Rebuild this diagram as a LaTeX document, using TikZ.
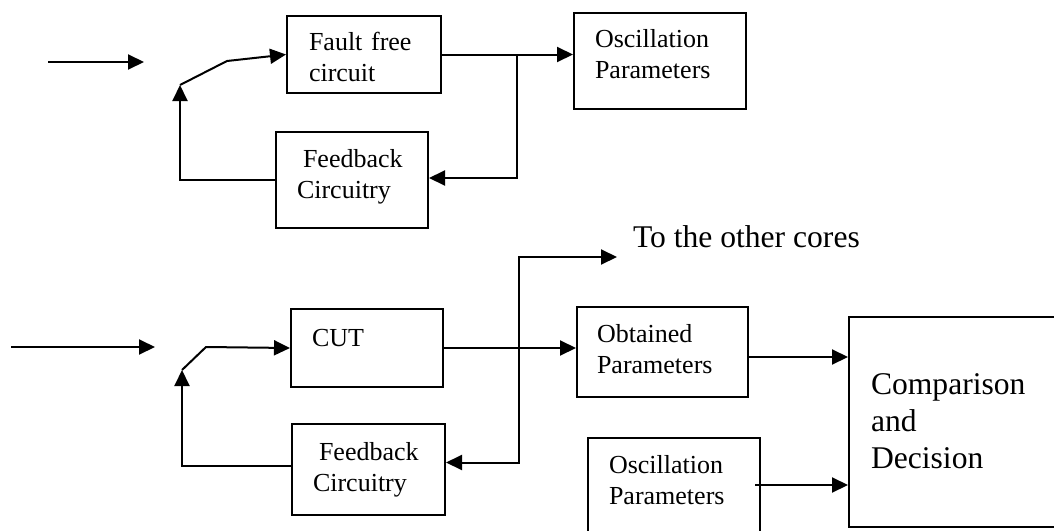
\documentclass[tikz,border=0pt]{standalone}
\usepackage{amsmath}
\usepackage{fontspec}
\setmainfont{Liberation Serif}
\usetikzlibrary{arrows.meta}

\begin{document}
\begin{tikzpicture}[x=0.5pt, y=-0.5pt, line width=1pt,
		>={Triangle[length=8pt,width=7.5pt]},
		blk/.style={draw=black, inner sep=0pt, align=left, text height=0pt,
			font=\fontsize{13pt}{15.5pt}\selectfont},
		big/.style={font=\fontsize{15.8pt}{18.5pt}\selectfont}]
				\useasboundingbox (0,0) rectangle (1054,530);
				% reference (fault free) loop
				\node[blk, minimum width=77pt, minimum height=38.5pt,
				text width=55pt, text depth=3.8pt] (ff) at (364,54.5) {Fault free\\circuit};
				\node[blk, minimum width=76pt, minimum height=48pt,
				text width=55pt, text depth=13pt] (fb1) at (352,180) {\hspace*{3pt}Feedback\\Circuitry};
				\node[blk, minimum width=86pt, minimum height=48pt,
				text width=65pt, text depth=14pt] (osc1) at (660,61) {Oscillation\\Parameters};
				% loop of the circuit under test
				\node[blk, minimum width=76pt, minimum height=39pt,
				text width=55pt, text depth=2pt] (cut) at (367,348) {CUT};
				\node[blk, minimum width=76.5pt, minimum height=45.5pt,
				text width=55.5pt, text depth=9.5pt] (fb2) at (368.5,469.5) {\hspace*{3pt}Feedback\\Circuitry};
				\node[blk, minimum width=85.5pt, minimum height=45pt,
				text width=65.5pt, text depth=10pt] (obt) at (662.5,352) {Obtained\\Parameters};
				\node[blk, minimum width=86pt, minimum height=47pt,
				text width=65pt, text depth=12pt] (osc2) at (674,485) {Oscillation\\Parameters};
				\node[blk, big, minimum width=104.5pt, minimum height=105pt,
				text width=82.5pt, text depth=28pt] (cmp) at (953.5,422) {Comparison\\and\\Decision};
				\node[big, anchor=base west, inner sep=0pt] (toc) at (632,247) {To the other cores};
				% free ends
				\coordinate (in1) at (48,62);
				\coordinate (in1e) at (144,62);
				\coordinate (sw1) at (180,85);
				\coordinate (in2) at (11,347);
				\coordinate (in2e) at (155,347);
				\coordinate (sw2) at (182,370);
				\coordinate (j1) at (ff.east -| 517,0);
				\coordinate (j2) at (cut.east -| 519,0);
				\coordinate (out) at (617,257);
				\coordinate (o1) at ([yshift=-2.5pt]obt.east);
				\coordinate (o2) at ([xshift=-3pt]osc2.east);
				% connectors
				\draw[->] (in1) -- (in1e);
				\draw[->] (sw1) -- (227,61) -- (ff.west);
				\draw[->] (fb1.west) -| (sw1);
				\draw[->] (ff.east) -- (osc1.west |- ff.east);
				\draw[->] (j1) |- ([yshift=1pt]fb1.east);
				\draw[->] (in2) -- (in2e);
				\draw[->] (sw2) -- (206,347) -- (cut.west);
				\draw[->] ([yshift=2pt]fb2.west) -| (sw2);
				\draw[->] (cut.east) -- (obt.west |- cut.east);
				\draw[->] (j2) |- (out);
				\draw[->] (j2) |- ([yshift=3.5pt]fb2.east);
				\draw[->] (o1) -- (cmp.west |- o1);
				\draw[->] (o2) -- (cmp.west |- o2);
			\end{tikzpicture}
\end{document}
